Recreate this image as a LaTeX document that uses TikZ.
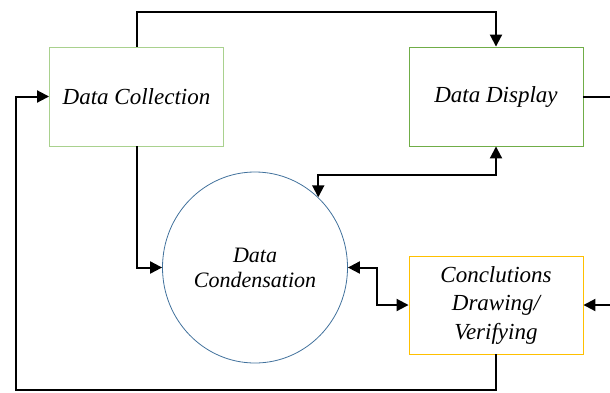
\documentclass[tikz,border=0pt]{standalone}
\usepackage{fontspec}
\setmainfont{Liberation Serif}
\usetikzlibrary{arrows.meta,shapes.geometric}
\definecolor{lgreen}{HTML}{A9D18E}
\definecolor{dgreen}{HTML}{70AD47}
\definecolor{cblue}{HTML}{41719C}
\definecolor{cyellow}{HTML}{FFC000}
\tikzset{
  stagebox/.style={draw, line width=0.9pt, minimum width=174pt, minimum height=99pt, inner sep=0pt, align=center,
    font=\itshape\fontsize{23}{28.5}\selectfont},
  stagecircle/.style={draw=cblue, line width=0.8pt, ellipse, minimum width=185pt, minimum height=191pt, inner sep=0pt, align=center,
    font=\itshape\fontsize{22}{25}\selectfont},
  flow/.style={line width=2pt, -{Triangle[length=12pt,width=12pt]}},
  flowboth/.style={line width=2pt, {Triangle[length=12pt,width=12pt]}-{Triangle[length=12pt,width=12pt]}}
}
\begin{document}
\begin{tikzpicture}[x=1pt,y=-1pt]
\useasboundingbox (0,0) rectangle (610,392);
\clip (0,0) rectangle (610,392);
\node[stagebox, draw=lgreen] (dc) at (136.5,96.5) {Data Collection};
\node[stagebox, draw=dgreen] (dd) at (496,96.5) {Data Display};
\node[stagecircle] (cd) at (255,267.5) {Data\\Condensation};
\node[stagebox, draw=cyellow, minimum height=98pt] (cv) at (496,305) {Conclutions\\Drawing/\\Verifying};
\coordinate (top) at (0,12);
\coordinate (bl) at (16,390);
\coordinate (rt) at (616,0);
\coordinate (m1) at (0,175);
\coordinate (m2) at (377,0);
\draw[flow] (dc.north) -- (dc.north |- top) -| (dd.north);
\draw[flow] (dc.south) |- (cd.west);
\draw[flow] (cv.south) |- (bl) |- (dc.west);
\draw[flow] (dd.east) -- (dd.east -| rt) |- (cv.east);
\draw[flowboth] (dd.south) |- (cd.48 |- m1) -- (cd.48);
\draw[flowboth] (cd.east) -- (cd.east -| m2) |- (cv.west);
\end{tikzpicture}
\end{document}
